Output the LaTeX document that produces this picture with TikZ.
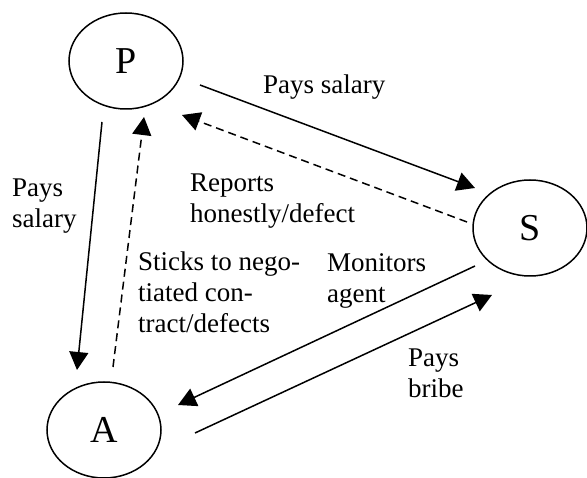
\documentclass[tikz,border=0pt]{standalone}
\usepackage{fontspec}
\setmainfont{Liberation Serif}
\usetikzlibrary{arrows.meta,calc,shapes.geometric}
\begin{document}
\begin{tikzpicture}[x=1pt,y=-1pt,
  party/.style={draw,ellipse,line width=1.5pt,minimum width=114pt,minimum height=96pt,
    inner sep=0pt,font=\fontsize{38}{42}\selectfont},
  lbl/.style={anchor=north west,align=left,inner sep=0pt,
    font=\fontsize{27}{31}\selectfont},
  flow/.style={line width=1.5pt,-{Triangle[length=18pt,width=19pt]}},
  report/.style={flow,dash pattern=on 8pt off 5pt}]
\useasboundingbox (0,0) rectangle (587,478);

% the three parties
\node[party] (P) at (126,61) {P};
\node[party] (S) at (530,228) {S};
\node[party] (A) at (104,430) {A};

% end points of the flows, set off from the parties
\coordinate (ps1) at ($(P)+(74,24)$);
\coordinate (ps2) at ($(S)+(-55,-40)$);
\coordinate (sp1) at ($(S)+(-63,-6)$);
\coordinate (sp2) at ($(P)+(56,54)$);
\coordinate (pa1) at ($(P)+(-24,61)$);
\coordinate (pa2) at ($(A)+(-27,-60)$);
\coordinate (ap1) at ($(A)+(9,-63)$);
\coordinate (ap2) at ($(P)+(18,56)$);
\coordinate (sa1) at ($(S)+(-55,38)$);
\coordinate (sa2) at ($(A)+(74,-25)$);
\coordinate (as1) at ($(A)+(91,3)$);
\coordinate (as2) at ($(S)+(-38,67)$);

% flows
\draw[flow] (ps1) -- (ps2);
\draw[report] (sp1) -- (sp2);
\draw[flow] (pa1) -- (pa2);
\draw[report] (ap1) -- (ap2);
\draw[flow] (sa1) -- (sa2);
\draw[flow] (as1) -- (as2);

% labels
\node[lbl] (l1) at (263,75) {Pays salary};
\node[lbl] (l2) at (12,179) {Pays\\salary};
\node[lbl] (l3) at (190,174) {Reports\\honestly/defect};
\node[lbl] (l4) at (138,252) {Sticks to nego-\\tiated con-\\tract/defects};
\node[lbl] (l5) at (327,253) {Monitors\\agent};
\node[lbl] (l6) at (408,349) {Pays\\bribe};
\end{tikzpicture}
\end{document}
